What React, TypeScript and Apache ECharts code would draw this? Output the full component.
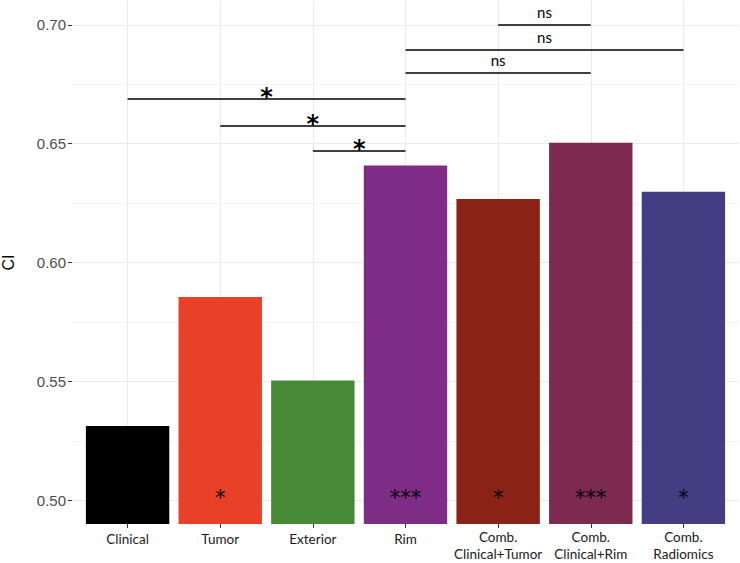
import React, { useEffect, useRef } from "react";
import * as echarts from "echarts";

const categories = [
  "Clinical",
  "Tumor",
  "Exterior",
  "Rim",
  "Comb.\nClinical+Tumor",
  "Comb.\nClinical+Rim",
  "Comb.\nRadiomics",
];
const ciValues = [0.5312, 0.5855, 0.5504, 0.6408, 0.6267, 0.6504, 0.6298];
const barColors = ["#000000", "#E94127", "#468A37", "#7F2C87", "#8A2215", "#7D2A51", "#433E84"];
const sigLabels = ["", "*", "", "***", "*", "***", "*"];
const yMajorTicks = [0.5, 0.55, 0.6, 0.65, 0.7];
const yGridValues = [0.5, 0.525, 0.55, 0.575, 0.6, 0.625, 0.65, 0.675, 0.7];
const xPositions = [0, 1, 2, 3, 4, 5, 6];
const bracketFrom = [0, 1, 2, 3, 3, 4];
const bracketTo = [3, 3, 3, 5, 6, 5];
const bracketY = [0.6688, 0.6574, 0.6471, 0.68, 0.6895, 0.7];
const bracketLabels = ["*", "*", "*", "ns", "ns", "ns"];

export default function App() {
  const ref = useRef<HTMLDivElement>(null);
  useEffect(() => {
    if (!ref.current) return;
    const chart = echarts.init(ref.current, null, { renderer: "svg" });
    const xFont = "Lato, 'Noto Sans', sans-serif";
    const yFont = "'Liberation Sans', Arial, sans-serif";
    chart.setOption({
      animation: false,
      backgroundColor: "#ffffff",
      grid: {
        left: 72,
        right: 1,
        top: 1,
        bottom: 39,
        containLabel: false,
        outerBoundsMode: "none",
      },
      xAxis: {
        type: "value",
        min: -0.6,
        max: 6.6,
        axisLine: { show: false },
        axisTick: {
          show: true,
          customValues: xPositions,
          length: 4,
          lineStyle: { color: "#333333", width: 1 },
        },
        axisLabel: {
          customValues: xPositions,
          formatter: (v: number) => {
            const name = categories[Math.round(v)] ?? "";
            return name.indexOf("\n") >= 0 ? name : `{s|${name}}`;
          },
          color: "#1a1a1a",
          fontFamily: xFont,
          fontSize: 13.5,
          lineHeight: 16.5,
          margin: 5,
          rich: {
            s: {
              color: "#1a1a1a",
              fontFamily: xFont,
              fontSize: 13.5,
              lineHeight: 16.5,
              padding: [3, 0, 0, 0],
            },
          },
        },
        splitLine: { show: true, lineStyle: { color: "#EBEBEB", width: 1 } },
      },
      yAxis: [
        {
          type: "value",
          min: 0.49,
          max: 0.71,
          position: "left",
          name: "CI",
          nameLocation: "middle",
          nameGap: 56,
          nameTextStyle: {
            fontFamily: yFont,
            fontSize: 16,
            color: "#000000",
          },
          axisLine: { show: false },
          axisTick: { show: false, customValues: yGridValues },
          axisLabel: {
            customValues: yMajorTicks,
            formatter: (v: number) => v.toFixed(2),
            color: "#4D4D4D",
            fontFamily: yFont,
            fontSize: 15,
            margin: 6,
          },
          splitLine: {
            show: true,
            lineStyle: { color: ["#EAEAEA", "#F3F3F3"], width: 1 },
          },
        },
        {
          type: "value",
          min: 0.49,
          max: 0.71,
          position: "left",
          axisLine: { show: false },
          axisTick: {
            show: true,
            customValues: yMajorTicks,
            length: 4,
            lineStyle: { color: "#333333", width: 1 },
          },
          axisLabel: { show: false },
          splitLine: { show: false },
        },
      ],
      series: [
        {
          type: "bar",
          xAxisIndex: 0,
          yAxisIndex: 0,
          barWidth: 83.4,
          data: ciValues.map((v, i) => ({
            value: [xPositions[i], v],
            itemStyle: { color: barColors[i] },
          })),
          label: {
            show: true,
            position: "insideBottom",
            distance: 16,
            formatter: (p: any) => sigLabels[p.dataIndex],
            color: "#000000",
            fontFamily: "'DejaVu Sans', sans-serif",
            fontSize: 21,
          },
          markLine: {
            silent: true,
            symbol: ["none", "none"],
            animation: false,
            lineStyle: { color: "#000000", width: 1.6, type: "solid" },
            label: {
              show: true,
              position: "middle",
              formatter: "{b}",
              color: "#000000",
              fontFamily: xFont,
            },
            data: bracketY.map((y, i) => [
              {
                coord: [bracketFrom[i], y],
                name: bracketLabels[i],
                label:
                  bracketLabels[i] === "*"
                    ? {
                        fontSize: 24,
                        fontFamily: "'DejaVu Sans', sans-serif",
                        fontWeight: "bold",
                        distance: -10,
                      }
                    : { fontSize: 15, distance: 5 },
              },
              { coord: [bracketTo[i], y] },
            ]),
          },
        },
      ],
    });
    return () => chart.dispose();
  }, []);
  return (
    <div
      ref={ref}
      style={{ position: "fixed", left: 0, top: 0, width: 740, height: 563 }}
    />
  );
}
